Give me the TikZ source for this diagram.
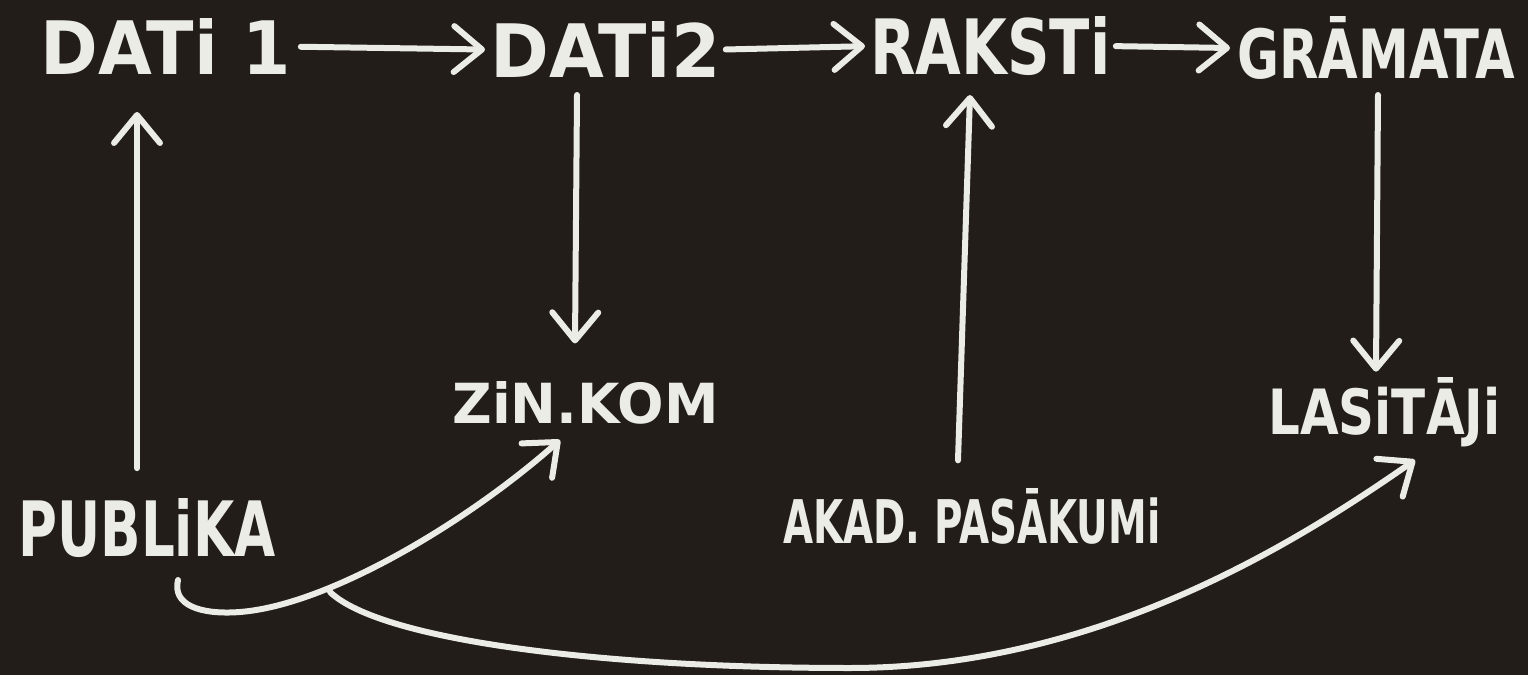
\documentclass[tikz,border=0pt]{standalone}
\usepackage{fontspec}
\setmainfont{DejaVu Sans}
\usetikzlibrary{arrows.meta}
\definecolor{board}{RGB}{34,29,25}
\definecolor{chalk}{RGB}{236,236,230}
\tikzset{
  chalkline/.style={draw=chalk, line width=3pt, line cap=round, line join=round},
  arr/.style={chalkline, -{Straight Barb[length=14pt,width=23pt,round]}},
  lbl/.style={text=chalk, inner sep=0pt, anchor=south west, font=\bfseries},
}
\begin{document}
\begin{tikzpicture}[x=0.5pt,y=-0.5pt]
\fill[board] (0,0) rectangle (1528,675);
\useasboundingbox (0,0) rectangle (1528,675);
% labels (anchor = baseline-left)
\node[lbl] (dati1)   at (40,75)   {\resizebox{125pt}{28pt}{DATi 1}};
\node[lbl] (dati2)   at (490,78)  {\resizebox{115pt}{28pt}{DATi2}};
\node[lbl] (raksti)  at (870,76)  {\resizebox{120pt}{29pt}{RAKSTi}};
\node[lbl] (gramata) at (1237,80) {\resizebox{139pt}{31pt}{GRĀMATA}};
\node[lbl] (zinkom)  at (452,425) {\resizebox{133pt}{21pt}{ZiN.KOM}};
\node[lbl] (lasitaji) at (1268,447) {\resizebox{116pt}{28.5pt}{LASiTĀJi}};
\node[lbl] (publika) at (18,558)  {\resizebox{128.5pt}{29pt}{PUBLiKA}};
\node[lbl] (akad)    at (783,545) {\resizebox{188.5pt}{27.5pt}{AKAD. PASĀKUMi}};
% top chain
\draw[arr, shorten <=5pt, shorten >=2.5pt] (dati1.east) -- (dati2.west);
\draw[arr, shorten <=2.5pt, shorten >=2.5pt] (dati2.east) -- (raksti.west);
\draw[arr, shorten <=2.5pt, shorten >=3.5pt] (raksti.east) -- (gramata.west);
% vertical arrows
\draw[arr] ([shift={(119,-30)}]publika.north west) -- ([shift={(97,37)}]dati1.south west);
\draw[arr] ([shift={(87,17)}]dati2.south west) -- ([shift={(123,-38)}]zinkom.north west);
\draw[arr] ([shift={(175,-28)}]akad.north west) -- ([shift={(100,19)}]raksti.south west);
\draw[arr] ([shift={(141,15)}]gramata.south west) -- ([shift={(108,-5)}]lasitaji.north west);
% curves from PUBLIKA
\draw[arr] ([shift={(160,22)}]publika.south west) .. controls (172,605) and (200,615) .. (240,612)
  .. controls (330,605) and (470,520) .. ([shift={(108,15)}]zinkom.south west);
\draw[arr] ([shift={(312,34)}]publika.south west) .. controls (380,640) and (600,668) .. (850,668)
  .. controls (1100,668) and (1300,540) .. ([shift={(147,13)}]lasitaji.south west);
\end{tikzpicture}
\end{document}
